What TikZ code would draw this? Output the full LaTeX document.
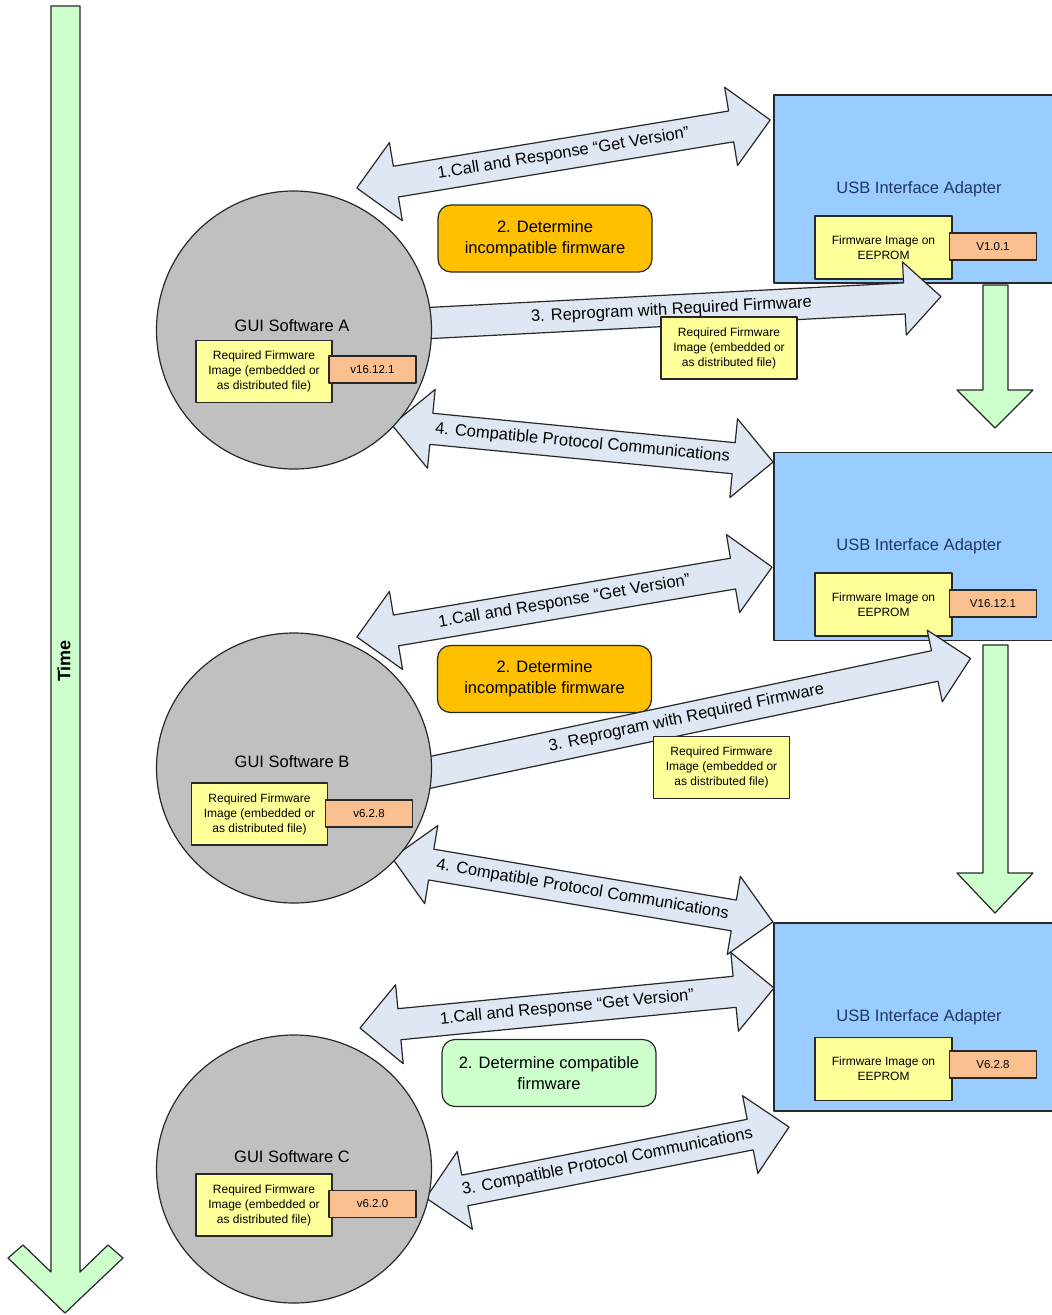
\documentclass[tikz,border=0pt]{standalone}
\usepackage{fontspec}
\setmainfont{Liberation Sans}
\usetikzlibrary{shapes.arrows,shapes.geometric}

\definecolor{adapterblue}{RGB}{153,204,255}
\definecolor{fwyellow}{RGB}{255,255,153}
\definecolor{verorange}{RGB}{250,192,144}
\definecolor{guigray}{RGB}{192,192,192}
\definecolor{amber}{RGB}{255,192,0}
\definecolor{okgreen}{RGB}{204,255,204}
\definecolor{timegreen}{RGB}{204,255,204}
\definecolor{msgblue}{RGB}{222,231,243}
\definecolor{lineclr}{RGB}{40,40,40}
\definecolor{navytext}{RGB}{31,56,100}

\begin{document}
\begin{tikzpicture}[x=1pt,y=-1pt,line join=round,
  usb/.style={draw=lineclr,line width=1.2pt,fill=adapterblue,minimum width=290pt,minimum height=188pt,inner sep=0pt,text=navytext,font=\fontsize{16.5}{20}\selectfont},
  eeprom/.style={draw=lineclr,line width=1.2pt,fill=fwyellow,minimum width=137pt,minimum height=63pt,inner sep=0pt,align=center,font=\fontsize{12}{15}\selectfont},
  ver/.style={draw=lineclr,line width=1.2pt,fill=verorange,minimum width=87pt,minimum height=27pt,inner sep=0pt,font=\fontsize{11.5}{14}\selectfont},
  gui/.style={ellipse,draw=lineclr,line width=1.2pt,fill=guigray,minimum width=275pt,inner sep=0pt},
  guilabel/.style={inner sep=0pt,font=\fontsize{16.5}{20}\selectfont},
  reqfw/.style={draw=lineclr,line width=1.2pt,fill=fwyellow,minimum width=136pt,minimum height=62pt,inner sep=0pt,align=center,font=\fontsize{12}{15}\selectfont},
  decide/.style={draw=lineclr,line width=1.2pt,rounded corners=13pt,minimum width=214pt,minimum height=67pt,align=center,font=\fontsize{16.5}{21}\selectfont},
  msg/.style={double arrow,draw=lineclr,line width=1.2pt,fill=msgblue,double arrow head extend=24pt,text height=12pt,text depth=4pt,inner ysep=7pt,inner xsep=0pt,font=\fontsize{16.5}{20}\selectfont},
  push/.style={single arrow,draw=lineclr,line width=1.2pt,fill=msgblue,single arrow head extend=21pt,text height=12pt,text depth=4pt,inner ysep=7pt,inner xsep=0pt,font=\fontsize{16.5}{20}\selectfont},
  flow/.style={draw=lineclr,line width=1.2pt,fill=timegreen}
]
  \useasboundingbox (0,0) rectangle (1052,1315);
  \clip (0,0) rectangle (1052,1315);

  % Time axis
  \draw[flow] (51,6) -- (51,1272) -- (23,1245) -- (8,1258) -- (65,1313) -- (123,1258) -- (108,1245) -- (80,1272) -- (80,6) -- cycle;
  \node[rotate=90,font=\fontsize{18}{20}\selectfont\bfseries] (time) at (64,661) {Time};

  % USB adapters
  \node[usb] (usbA) at (919,189) {USB Interface Adapter};
  \node[usb] (usbB) at (919,546.5) {USB Interface Adapter};
  \node[usb] (usbC) at (919,1017) {USB Interface Adapter};
  \node[eeprom] (romA) at (883.5,247.5) {Firmware Image on\\EEPROM};
  \node[eeprom] (romB) at (883.5,604.5) {Firmware Image on\\EEPROM};
  \node[eeprom] (romC) at (883.5,1069) {Firmware Image on\\EEPROM};
  \node[ver] (verA) at (993,246.5) {V1.0.1};
  \node[ver] (verB) at (993,603.5) {V16.12.1};
  \node[ver] (verC) at (993,1064.5) {V6.2.8};

  % adapter updates
  \draw[flow] (983,285) -- (983,390) -- (957,390) -- (995,428) -- (1033,390) -- (1008,390) -- (1008,285) -- cycle;
  \draw[flow] (983,645) -- (983,873) -- (957,873) -- (995,913) -- (1033,873) -- (1008,873) -- (1008,645) -- cycle;

  % decisions
  \node[decide,fill=amber] (decA) at (545,238.5) {2. Determine\\incompatible firmware};
  \node[decide,fill=amber] (decB) at (544.5,679) {2. Determine\\incompatible firmware};
  \node[decide,fill=okgreen] (decC) at (549,1073) {2. Determine compatible\\firmware};

  % messages
  \node[msg,rotate=9.35,minimum height=419pt] (callA) at (563.5,154) {1.Call and Response “Get Version”};
  \node[push,rotate=2.96,minimum height=524pt] (progA) at (671.5,310.5) {3. Reprogram with Required Firmware};
  \node[msg,rotate=-5.55,minimum height=383pt] (commA) at (582.5,443.5) {4. Compatible Protocol Communications};
  \node[msg,rotate=9.57,minimum height=421pt] (callB) at (564.5,602) {1.Call and Response “Get Version”};
  \node[push,rotate=11.91,minimum height=565pt] (progB) at (686.5,718.3) {3. Reprogram with Required Firmware};
  \node[msg,rotate=-9.54,minimum height=386pt] (commB) at (582.5,890) {4. Compatible Protocol Communications};
  \node[msg,rotate=5.52,minimum height=416pt] (callC) at (567,1008) {1.Call and Response “Get Version”};
  \node[msg,rotate=11.07,minimum height=370pt] (commC) at (607.5,1162.5) {3. Compatible Protocol Communications};

  % GUI software
  \node[gui,minimum height=278pt] (guiA) at (294,330) {};
  \node[gui,minimum height=270pt] (guiB) at (294,768) {};
  \node[gui,minimum height=268pt] (guiC) at (294,1169) {};
  \node[guilabel] (labA) at (292,326) {GUI Software A};
  \node[guilabel] (labB) at (292,762) {GUI Software B};
  \node[guilabel] (labC) at (292,1157) {GUI Software C};
  \node[reqfw] (reqA) at (264,371.5) {Required Firmware\\Image (embedded or\\as distributed file)};
  \node[reqfw] (reqB) at (259.5,814) {Required Firmware\\Image (embedded or\\as distributed file)};
  \node[reqfw] (reqC) at (264,1205) {Required Firmware\\Image (embedded or\\as distributed file)};
  \node[ver] (gverA) at (372.5,369.5) {v16.12.1};
  \node[ver] (gverB) at (369,813.5) {v6.2.8};
  \node[ver] (gverC) at (372.5,1204) {v6.2.0};

  % payloads
  \node[reqfw] (loadA) at (729,348) {Required Firmware\\Image (embedded or\\as distributed file)};
  \node[reqfw] (loadB) at (721.5,767.5) {Required Firmware\\Image (embedded or\\as distributed file)};
\end{tikzpicture}
\end{document}
